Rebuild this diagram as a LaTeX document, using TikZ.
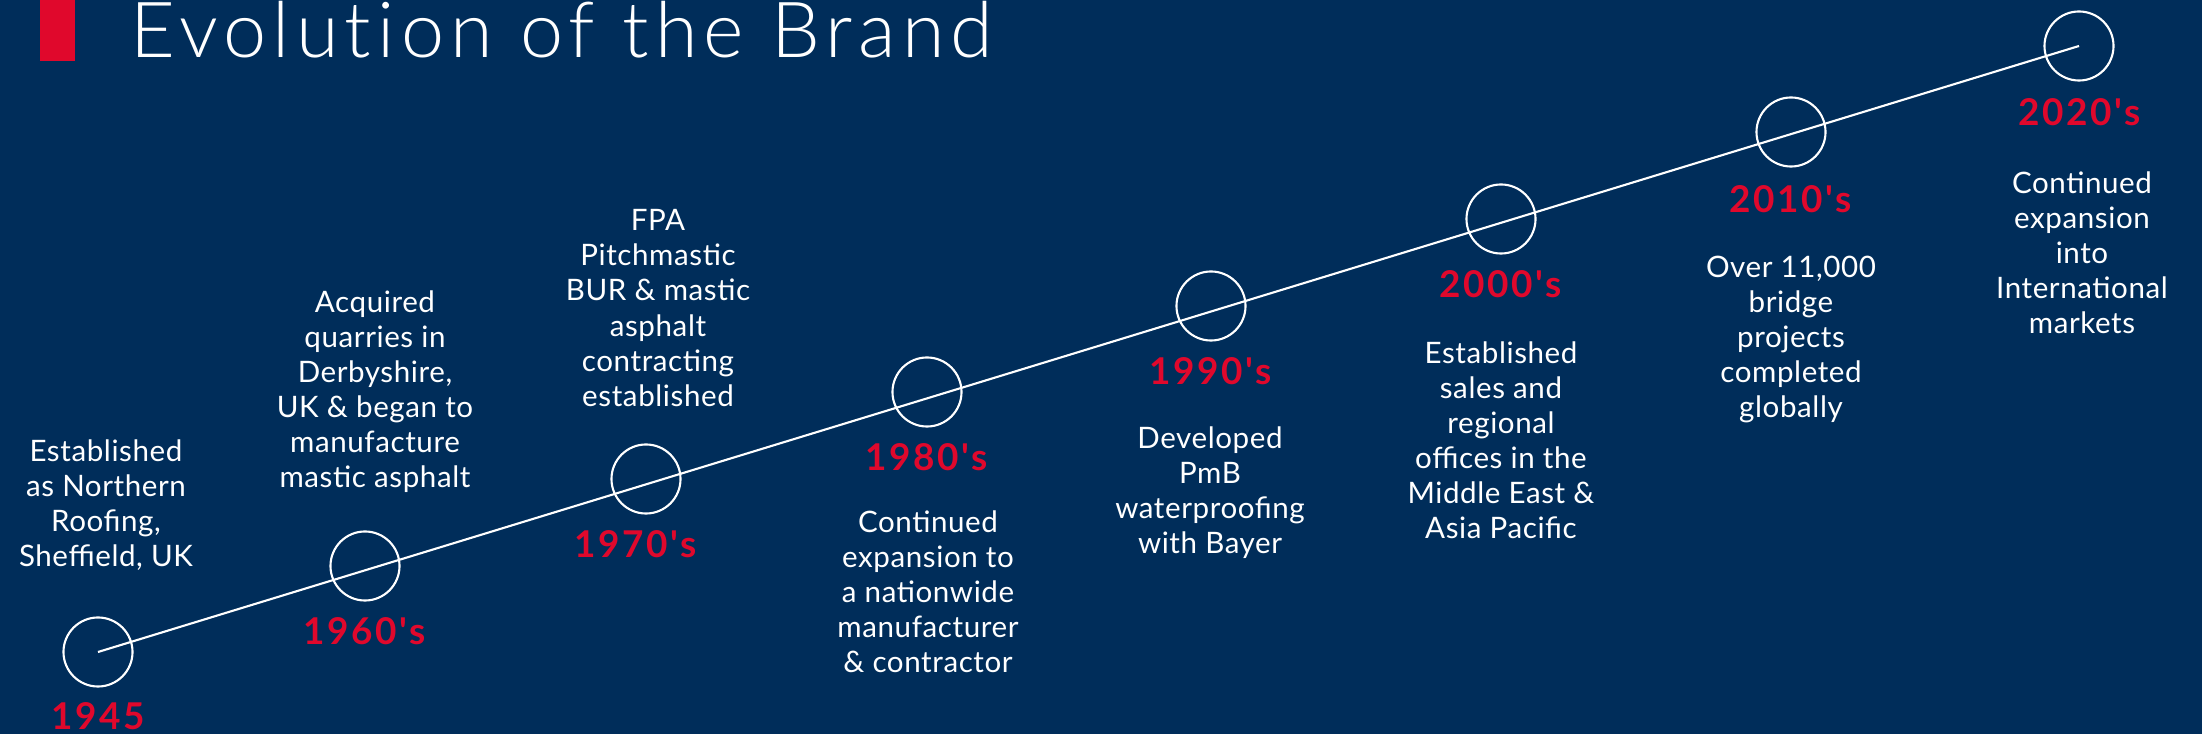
\documentclass[tikz,border=0pt]{standalone}
\usepackage{fontspec}
\setmainfont{Lato}
\newfontfamily\titlefont{Lato Light}[Ligatures=NoCommon,LetterSpace=8]
\newfontfamily\yearfont{Lato}[LetterSpace=7]
\newfontfamily\infofont{Lato}[LetterSpace=2]
\usepackage{tikz}
\definecolor{navy}{RGB}{0,45,90}
\definecolor{brandred}{RGB}{224,8,44}

\begin{document}
\begin{tikzpicture}[x=0.01cm,y=-0.01cm]
	\tikzstyle{ring}=[circle,draw=white,line width=0.6pt,minimum size=0.69cm,inner sep=0pt]
	\tikzstyle{year}=[text=brandred,font=\fontsize{10.5}{12}\yearfont\bfseries,inner sep=0pt,anchor=base]
	\tikzstyle{info}=[text=white,font=\fontsize{8.4}{9.96}\infofont,align=center,inner sep=0pt]
	\fill[navy] (0,0) rectangle (2202,734);
	\useasboundingbox (0,0) rectangle (2202,734);
	\fill[brandred] (40,0) rectangle (75,61);
	\node[text=white,font=\fontsize{22}{24}\titlefont,anchor=base west,inner sep=0pt] (title) at (130,58) {Evolution of the Brand};
	\node[ring] (1) at (98,652) {};
	\node[ring] (2) at (365,566) {};
	\node[ring] (3) at (646,479) {};
	\node[ring] (4) at (927,392) {};
	\node[ring] (5) at (1211,306) {};
	\node[ring] (6) at (1501,219) {};
	\node[ring] (7) at (1791,132) {};
	\node[ring] (8) at (2079,46) {};
	\draw[white,line width=0.6pt] (1.center) -- (8.center);
	\node[year] (y1) at (98,730) {1945};
	\node[year] (y2) at (365,645) {1960's};
	\node[year] (y3) at (636,558) {1970's};
	\node[year] (y4) at (927,471) {1980's};
	\node[year] (y5) at (1211,385) {1990's};
	\node[year] (y6) at (1501,298) {2000's};
	\node[year] (y7) at (1791,213) {2010's};
	\node[year] (y8) at (2080,126) {2020's};
	\node[info,anchor=south] (d1) at (106,571) {Established\\as Northern\\Roofing,\\Sheffield, UK};
	\node[info,anchor=south] (d2) at (375,493) {Acquired\\quarries in\\Derbyshire,\\UK \& began to\\manufacture\\mastic asphalt};
	\node[info,anchor=south] (d3) at (658,407) {FPA\\Pitchmastic\\BUR \& mastic\\asphalt\\contracting\\established};
	\node[info,anchor=north] (d4) at (928,510) {Continued\\expansion to\\a nationwide\\manufacturer\\\& contractor};
	\node[info,anchor=north] (d5) at (1210,426) {Developed\\PmB\\waterproofing\\with Bayer};
	\node[info,anchor=north] (d6) at (1501,341) {Established\\sales and\\regional\\offices in the\\Middle East \&\\Asia Pacific};
	\node[info,anchor=north] (d7) at (1791,255) {Over 11,000\\bridge\\projects\\completed\\globally};
	\node[info,anchor=north] (d8) at (2082,171) {Continued\\expansion\\into\\International\\markets};
\end{tikzpicture}
\end{document}
